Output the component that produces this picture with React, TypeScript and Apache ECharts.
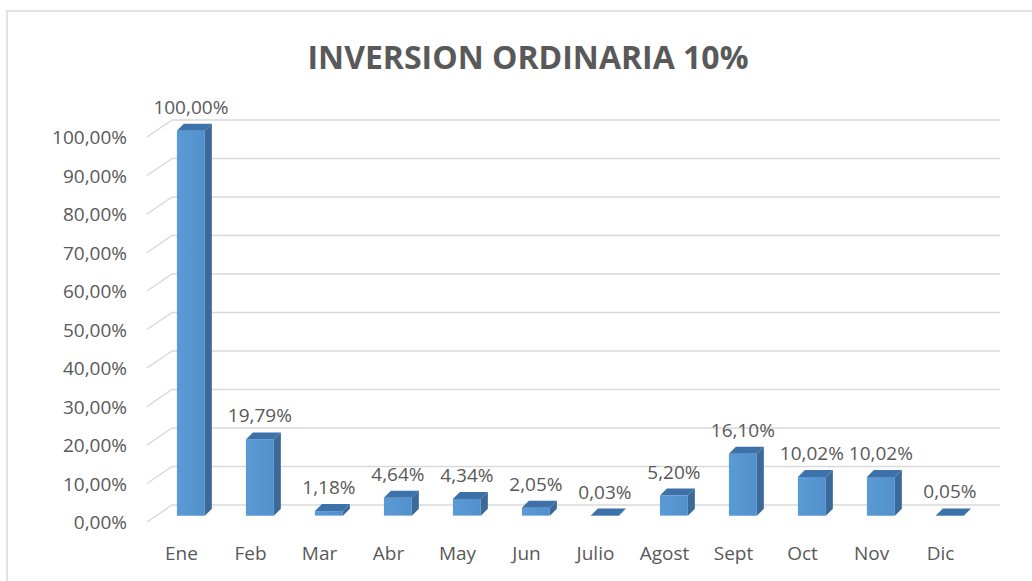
import React, { useEffect, useRef } from "react";
import * as echarts from "echarts";

const titleText = "INVERSION ORDINARIA 10%";
const categories = ["Ene", "Feb", "Mar", "Abr", "May", "Jun", "Julio", "Agost", "Sept", "Oct", "Nov", "Dic"];
const values = [100, 19.79, 1.18, 4.64, 4.34, 2.05, 0.03, 5.2, 16.1, 10.02, 10.02, 0.05];
const yTicks = [0, 10, 20, 30, 40, 50, 60, 70, 80, 90, 100];

const FONT = "'Open Sans', 'Noto Sans', sans-serif";
const TEXT_COLOR = "#595959";
const GRID_COLOR = "#d9d9d9";
// perspective offsets (px)
const WALL_DX = 25;
const WALL_DY = 17;
const BAR_POS = 0.375;
const BAR_DX = 7;
const BAR_DY = 7;

const fmt = (v: number) => v.toFixed(2).replace(".", ",") + "%";

export default function App() {
  const ref = useRef<HTMLDivElement>(null);
  useEffect(() => {
    if (!ref.current) return;
    const chart = echarts.init(ref.current, undefined, { renderer: "svg" });
    chart.setOption({
      animation: false,
      backgroundColor: "#ffffff",
      title: {
        text: titleText,
        left: 523,
        top: 35,
        textAlign: "center",
        textStyle: { fontFamily: FONT, fontSize: 32, fontWeight: "bold", color: TEXT_COLOR },
      },
      graphic: [
        {
          type: "rect",
          shape: { x: 7, y: 11, width: 1060, height: 620 },
          style: { fill: "none", stroke: GRID_COLOR, lineWidth: 1.5 },
          z: -10,
        },
      ],
      grid: { left: 147, right: 57, top: 137, bottom: 59 },
      xAxis: {
        type: "category",
        data: categories,
        axisLine: { show: false },
        axisTick: { show: false },
        axisLabel: { margin: 21, color: TEXT_COLOR, fontFamily: FONT, fontSize: 19 },
      },
      yAxis: {
        type: "value",
        min: 0,
        max: 100,
        interval: 10,
        splitLine: { show: false },
        axisLine: { show: false },
        axisTick: { show: false },
        axisLabel: {
          margin: 20,
          color: TEXT_COLOR,
          fontFamily: FONT,
          fontSize: 19,
          formatter: (v: number) => fmt(v),
        },
      },
      series: [
        {
          type: "custom",
          name: "wall",
          silent: true,
          z: 1,
          data: yTicks.map((v) => [0, v]),
          encode: { x: 0, y: 1 },
          renderItem: (params: any, api: any) => {
            const cs = params.coordSys;
            const y = api.coord([0, api.value(1)])[1];
            const x0 = cs.x;
            const x1 = cs.x + cs.width;
            return {
              type: "polyline",
              shape: {
                points: [
                  [x0, y],
                  [x0 + WALL_DX, y - WALL_DY],
                  [x1 + WALL_DX, y - WALL_DY],
                ],
              },
              style: { fill: "none", stroke: GRID_COLOR, lineWidth: 1.5 },
            };
          },
        },
        {
          type: "custom",
          name: "INVERSION ORDINARIA",
          z: 5,
          data: values.map((v, i) => [i, v]),
          encode: { x: 0, y: 1 },
          renderItem: (params: any, api: any) => {
            const i = api.value(0);
            const v = api.value(1);
            const base = api.coord([i, 0]);
            const top = api.coord([i, v]);
            const band = api.size([1, 0])[0];
            const w = band * 0.405;
            const ox = WALL_DX * BAR_POS;
            const oy = -WALL_DY * BAR_POS;
            const xc = base[0] + ox;
            const xl = xc - w / 2;
            const xr = xc + w / 2;
            const yb = base[1] + oy;
            const yt = top[1] + oy;
            return {
              type: "group",
              children: [
                {
                  type: "polygon",
                  shape: { points: [[xr, yt], [xr + BAR_DX, yt - BAR_DY], [xr + BAR_DX, yb - BAR_DY], [xr, yb]] },
                  style: { fill: "#3b6a99" },
                },
                {
                  type: "rect",
                  shape: { x: xl, y: yt, width: w, height: Math.max(yb - yt, 0.5) },
                  style: {
                    fill: new echarts.graphic.LinearGradient(0, 0, 1, 0, [
                      { offset: 0, color: "#5b9bd5" },
                      { offset: 1, color: "#5190cc" },
                    ]),
                  },
                },
                {
                  type: "polygon",
                  shape: { points: [[xl, yt], [xr, yt], [xr + BAR_DX, yt - BAR_DY], [xl + BAR_DX, yt - BAR_DY]] },
                  style: { fill: "#3c71a9" },
                },
                {
                  type: "text",
                  style: {
                    text: fmt(v),
                    x: xc,
                    y: yt - BAR_DY - 17,
                    align: "center",
                    verticalAlign: "middle",
                    fill: TEXT_COLOR,
                    font: `19px ${FONT}`,
                  },
                  z2: 10,
                },
              ],
            };
          },
        },
      ],
    });
    return () => chart.dispose();
  }, []);
  return (
    <div
      ref={ref}
      style={{ position: "fixed", left: 0, top: 0, width: 1032, height: 581, background: "#fff" }}
    />
  );
}
